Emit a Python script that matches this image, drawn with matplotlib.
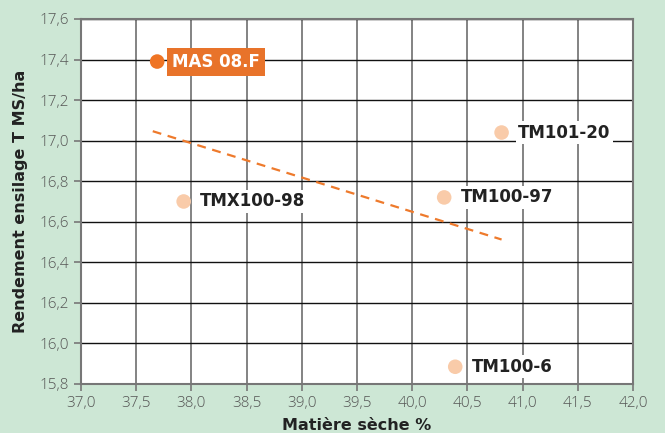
import matplotlib
matplotlib.use("Agg")
import matplotlib.pyplot as plt
import numpy as np
from matplotlib.ticker import FuncFormatter

names = ["MAS 08.F", "TMX100-98", "TM101-20", "TM100-97", "TM100-6"]
ms = [37.69, 37.93, 40.81, 40.29, 40.39]
rdt = [17.39, 16.70, 17.04, 16.72, 15.885]

xticks = [37.0, 37.5, 38.0, 38.5, 39.0, 39.5, 40.0, 40.5, 41.0, 41.5, 42.0]
yticks = [15.8, 16.0, 16.2, 16.4, 16.6, 16.8, 17.0, 17.2, 17.4, 17.6]

bg = "#cde7d5"
fig = plt.figure(figsize=(6.65, 4.33), dpi=100, facecolor=bg)
ax = fig.add_axes([0.1218, 0.1132, 0.830, 0.843])
ax.set_facecolor("white")
ax.set_xlim(37, 42)
ax.set_ylim(15.8, 17.6)
ax.set_xticks(xticks)
ax.set_yticks(yticks)
fmt = FuncFormatter(lambda v, p: f"{v:.1f}".replace(".", ","))
ax.xaxis.set_major_formatter(fmt)
ax.yaxis.set_major_formatter(fmt)
ax.xaxis.grid(True, color="#6e6e6e", lw=1.2)
ax.yaxis.grid(True, color="#111111", lw=1.0)
ax.set_axisbelow(True)
for s in ax.spines.values():
    s.set_color("#777777")
    s.set_linewidth(1.5)
ax.tick_params(axis="both", colors="#777777", length=5, width=1.2,
               labelcolor="#555555", labelsize=11)
for lab in ax.get_xticklabels() + ax.get_yticklabels():
    lab.set_fontfamily("Open Sans")
    lab.set_fontweight("light")

# trend line (linear regression)
coef = np.polyfit(ms, rdt, 1)
xl = np.array([min(ms) - 0.04, max(ms)])
ax.plot(xl, np.polyval(coef, xl), ls=(0, (4, 3)), color="#ee7a2c", lw=1.6, zorder=3)

for i, (n, x, y) in enumerate(zip(names, ms, rdt)):
    if i == 0:
        ax.scatter(x, y, s=110, color="#ef7424", zorder=4, edgecolors="none")
        ax.annotate(n, (x, y), xytext=(11, 0), textcoords="offset points",
                    va="center", ha="left", color="white", fontsize=12,
                    fontweight="bold", fontfamily="DejaVu Sans",
                    bbox=dict(boxstyle="square,pad=0.3", fc="#e8732a", ec="none"),
                    zorder=5)
    else:
        ax.scatter(x, y, s=110, color="#f9cba9", zorder=4, edgecolors="none")
        ax.annotate(n, (x, y), xytext=(12, 0), textcoords="offset points",
                    va="center", ha="left", color="#222222", fontsize=12,
                    fontweight="bold", fontfamily="DejaVu Sans",
                    bbox=dict(boxstyle="square,pad=0.15", fc="white", ec="none"),
                    zorder=5)

ax.set_xlabel("Matière sèche %", fontsize=11.5, fontweight="bold",
              color="#222222", labelpad=5)
ax.set_ylabel("Rendement ensilage T MS/ha", fontsize=11.5, fontweight="bold",
              color="#222222", labelpad=8)

fig.savefig("out.png", dpi=100, facecolor=bg)
